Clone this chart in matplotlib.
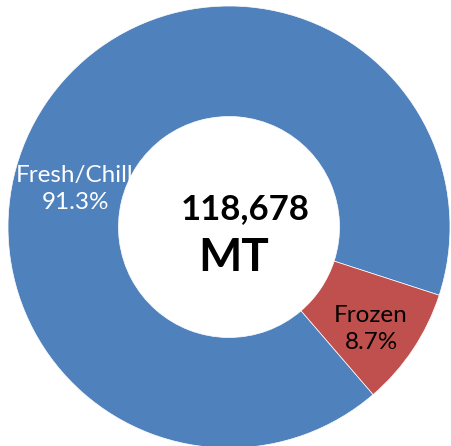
import matplotlib
matplotlib.use("Agg")
import matplotlib.pyplot as plt

labels = ["Fresh/Chill", "Frozen"]
shares = [91.3, 8.7]
total_label = "118,678"
unit_label = "MT"

BLUE = "#4F81BD"
RED = "#C0504D"

FONT = ["Lato", "DejaVu Sans"]

fig = plt.figure(figsize=(4.51, 4.46), dpi=100)
ax = fig.add_axes([0, 0, 1, 1])

wedges, _ = ax.pie(shares, colors=[BLUE, RED], startangle=310.7, counterclock=False,
                   radius=1.0, wedgeprops=dict(width=0.5, edgecolor="white", linewidth=0.5))

# pixel layout: center (229, 227), outer radius 221 px
ax.set_xlim(-229 / 221, (451 - 229) / 221)
ax.set_ylim((227 - 446) / 221, 227 / 221)
ax.set_aspect("auto")
ax.axis("off")


def px(x, y):
    return (x - 229) / 221, (227 - y) / 221


ax.text(*px(75, 189), f"{labels[0]}\n{shares[0]}%", ha="center", va="center",
        color="white", fontsize=17.5, family=FONT, linespacing=1.4)
ax.text(*px(371, 329), f"{labels[1]}\n{shares[1]}%", ha="center", va="center",
        color="black", fontsize=17.5, family=FONT, linespacing=1.4)

ax.text(*px(245, 209), total_label, ha="center", va="center", fontsize=25,
        fontweight="bold", family=FONT, color="black")
ax.text(*px(234, 258), unit_label, ha="center", va="center", fontsize=33,
        fontweight="bold", family=FONT, color="black")

fig.savefig("out.png", dpi=100)
